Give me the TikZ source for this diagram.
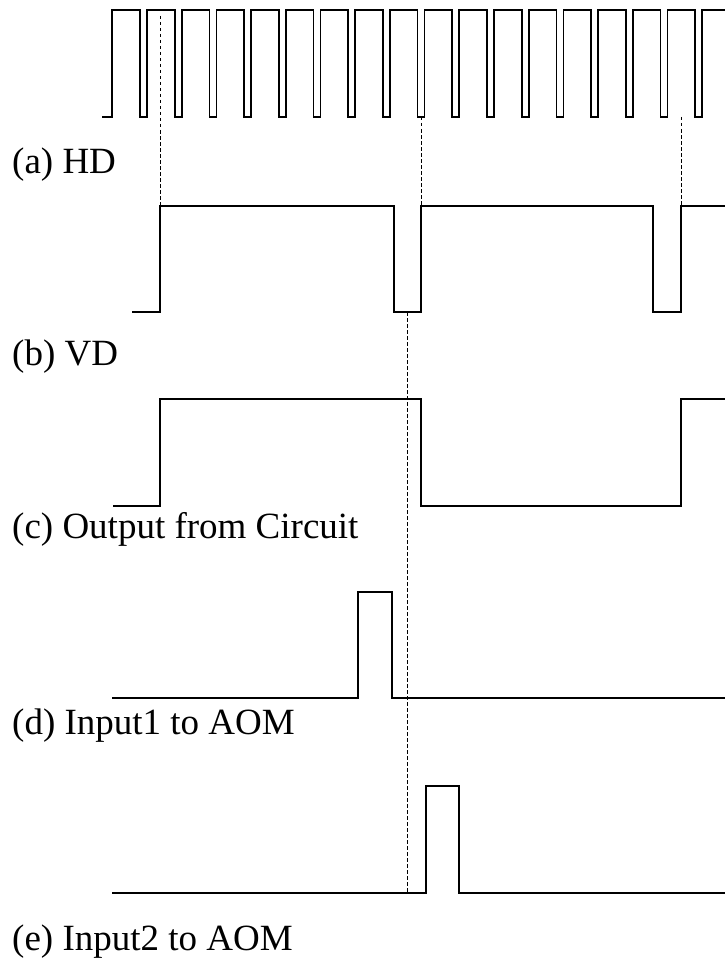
\documentclass[tikz,border=0pt]{standalone}
\usepackage{fontspec}
\setmainfont{Liberation Serif}
\begin{document}
\begin{tikzpicture}[x=1pt,y=-1pt,
  wave/.style={line width=1.7pt, line join=miter, line cap=butt},
  guide/.style={line width=1pt, dash pattern=on 3.5pt off 2.5pt},
  lbl/.style={anchor=base west, inner sep=0pt, font=\fontsize{37}{44}\selectfont}]
\useasboundingbox (0,0) rectangle (725,971);
% (a) HD pulse train
\draw[wave] (102,117) -- (112,117) -- (112,10)
  \foreach \k in {0,...,16} { -- ({140+34.7*\k},10) -- ({140+34.7*\k},117) -- ({147+34.7*\k},117) -- ({147+34.7*\k},10) }
  -- (725,10);
% (b) VD
\draw[wave] (132,312) -- (160,312) -- (160,206) -- (394,206) -- (394,312) -- (421,312) -- (421,206)
  -- (653,206) -- (653,312) -- (681,312) -- (681,206) -- (725,206);
% (c) Output from Circuit
\draw[wave] (113,506) -- (160,506) -- (160,399) -- (421,399) -- (421,506) -- (681,506) -- (681,399) -- (725,399);
% (d) Input1
\draw[wave] (112,698) -- (358,698) -- (358,592) -- (392,592) -- (392,698) -- (725,698);
% (e) Input2
\draw[wave] (112,893) -- (426,893) -- (426,786) -- (459,786) -- (459,893) -- (725,893);
% guide coordinates
\coordinate (g1a) at (160,16);  \coordinate (g1b) at (160,206);
\coordinate (g2a) at (421,117); \coordinate (g2b) at (421,206);
\coordinate (g3a) at (681,117); \coordinate (g3b) at (681,206);
\coordinate (g4a) at (407,312); \coordinate (g4b) at (407,893);
\draw[guide] (g1a) -- (g1b);
\draw[guide] (g2a) -- (g2b);
\draw[guide] (g3a) -- (g3b);
\draw[guide] (g4a) -- (g4b);
% labels
\node[lbl] (la) at (12,173) {(a) HD};
\node[lbl] (lb) at (12,365) {(b) VD};
\node[lbl] (lc) at (12,538) {(c) Output from Circuit};
\node[lbl] (ld) at (12,734) {(d) Input1 to AOM};
\node[lbl] (le) at (12,950) {(e) Input2 to AOM};
\end{tikzpicture}
\end{document}
